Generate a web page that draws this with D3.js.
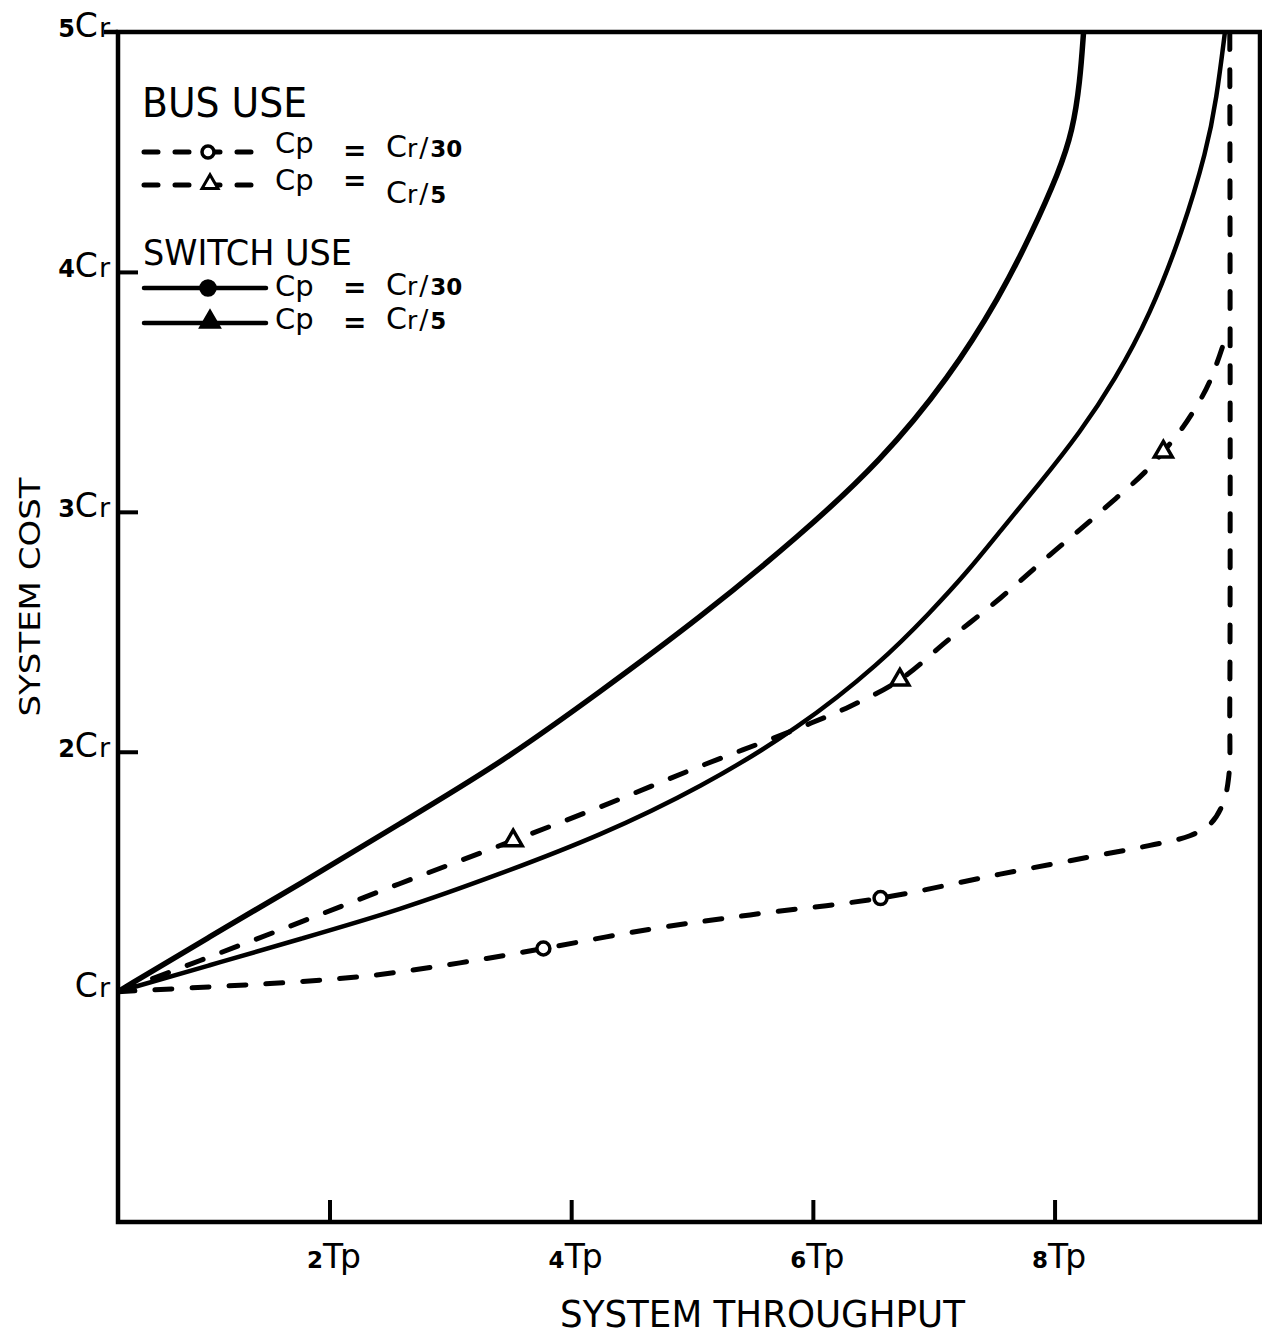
<!DOCTYPE html>
<html><head><meta charset="utf-8">
<script src="https://cdn.jsdelivr.net/npm/d3@7"></script>
<style>
body{margin:0;background:#fff;}
svg{display:block;}
text{font-family:"DejaVu Sans","Liberation Sans",sans-serif;fill:#000;}
</style>
</head><body>
<svg id="chart" width="1262" height="1337"></svg>
<script>
// ---- data (throughput in Tp, cost in Cr) ----
const xTickValues = [2, 4, 6, 8];
const xTickLabels = ["2Tp", "4Tp", "6Tp", "8Tp"];
const yTickValues = [1, 2, 3, 4, 5];
const yTickLabels = ["Cr", "2Cr", "3Cr", "4Cr", "5Cr"];

// SWITCH USE, Cp = Cr/5 (upper solid curve)
const switchCr5Throughput = [0.25,1.01,1.76,2.58,3.41,4.24,5.07,5.89,6.56,7.13,7.55,7.80,8.04,8.15,8.21,8.24];
const switchCr5Cost       = [1.00,1.23,1.45,1.70,1.95,2.25,2.56,2.90,3.21,3.56,3.90,4.15,4.42,4.59,4.79,5.00];

// SWITCH USE, Cp = Cr/30 (lower solid curve)
const switchCr30Throughput = [0.25,1.01,1.76,2.58,3.41,4.24,5.07,5.89,6.56,6.97,7.28,7.55,7.88,8.21,8.50,8.79,9.06,9.26,9.34,9.41];
const switchCr30Cost       = [1.00,1.11,1.22,1.34,1.49,1.65,1.85,2.10,2.37,2.58,2.75,2.92,3.12,3.33,3.55,3.82,4.17,4.51,4.72,5.00];

// BUS USE, Cp = Cr/5 (dashed, triangles)
const busCr5Throughput = [0.25,0.93,1.76,2.58,3.52,4.24,5.07,5.89,6.31,6.72,7.13,7.55,7.96,8.38,8.90,9.15,9.29,9.43];
const busCr5Cost       = [1.00,1.13,1.29,1.45,1.63,1.77,1.94,2.10,2.19,2.30,2.47,2.64,2.82,3.00,3.25,3.42,3.55,3.75];
const busCr5MarkerThroughput = [3.52, 6.72, 8.90];
const busCr5MarkerCost       = [1.63, 2.30, 3.25];

// BUS USE, Cp = Cr/30 (dashed, circles)
const busCr30Throughput = [0.25,1.01,1.70,2.39,3.08,3.77,4.65,5.48,6.56,7.55,8.38,8.79,9.12,9.29,9.39,9.44,9.45,9.45];
const busCr30Cost       = [1.00,1.02,1.04,1.07,1.12,1.18,1.26,1.32,1.39,1.49,1.57,1.61,1.65,1.70,1.78,1.89,2.22,5.00];
const busCr30MarkerThroughput = [3.77, 6.56];
const busCr30MarkerCost       = [1.18, 1.39];

// ---- layout ----
const xMin = 0.25, xMax = 9.7, yMin = 0.04, yMax = 5;
const svg = d3.select("#chart");
const x = d3.scaleLinear().domain([xMin, xMax]).range([118, 1260]);
const y = d3.scaleLinear().domain([yMin, yMax]).range([1222, 32]);

const zip = (a, b) => a.map((v, i) => [v, b[i]]);

svg.append("defs").append("clipPath").attr("id", "plotclip")
  .append("rect").attr("x", x(xMin)).attr("y", y(yMax))
  .attr("width", x(xMax) - x(xMin)).attr("height", y(yMin) - y(yMax));

// frame
svg.append("rect")
  .attr("x", x(xMin)).attr("y", y(yMax))
  .attr("width", x(xMax) - x(xMin)).attr("height", y(yMin) - y(yMax))
  .attr("fill", "none").attr("stroke", "#000").attr("stroke-width", 4.5);
svg.append("line").attr("x1", x(xMin) - 14).attr("x2", x(xMin))
  .attr("y1", y(5)).attr("y2", y(5)).attr("stroke", "#000").attr("stroke-width", 4.5);

// axes (inward ticks)
const gx = svg.append("g").attr("transform", `translate(0,${y(yMin)})`)
  .call(d3.axisBottom(x).tickValues(xTickValues).tickSizeInner(-22).tickSizeOuter(0).tickFormat(""));
gx.select(".domain").remove();
gx.selectAll(".tick line").attr("stroke", "#000").attr("stroke-width", 4);

const gy = svg.append("g").attr("transform", `translate(${x(xMin)},0)`)
  .call(d3.axisLeft(y).tickValues(yTickValues.filter(v => v > 1 && v < 5)).tickSizeInner(-20).tickSizeOuter(0).tickFormat(""));
gy.select(".domain").remove();
gy.selectAll(".tick line").attr("stroke", "#000").attr("stroke-width", 4);

// x tick labels
xTickValues.forEach((v, i) => {
  const lab = xTickLabels[i];
  const t = svg.append("text").attr("x", x(v) + 3).attr("y", 1268).attr("text-anchor", "middle");
  t.append("tspan").attr("font-size", 23).attr("font-weight", "bold").text(lab.slice(0, -2));
  t.append("tspan").attr("font-size", 33).attr("letter-spacing", -3).text(lab.slice(-2));
});

// y tick labels
yTickValues.forEach((v, i) => {
  const lab = yTickLabels[i];
  const t = svg.append("text").attr("x", x(xMin) - 8).attr("y", y(v) + 5).attr("text-anchor", "end");
  const digits = lab.slice(0, -2);
  if (digits) t.append("tspan").attr("font-size", 24).attr("font-weight", "bold").text(digits);
  t.append("tspan").attr("font-size", 33).text("C");
  t.append("tspan").attr("font-size", 27).attr("dx", 1).text("r");
});

// axis titles
svg.append("text").attr("x", 560).attr("y", 1327)
  .attr("font-size", 38).attr("textLength", 405).attr("lengthAdjust", "spacingAndGlyphs")
  .text("SYSTEM  THROUGHPUT");
svg.append("text").attr("transform", "translate(40,597) rotate(-90)")
  .attr("text-anchor", "middle").attr("font-size", 29)
  .attr("textLength", 239).attr("lengthAdjust", "spacingAndGlyphs")
  .text("SYSTEM  COST");

// curves
const lineOf = c => d3.line().x(d => x(d[0])).y(d => y(d[1])).curve(c);
const smooth = lineOf(d3.curveBasis);
const mono = lineOf(d3.curveMonotoneX);
const thru = lineOf(d3.curveCatmullRom.alpha(0.5));
const plot = svg.append("g").attr("clip-path", "url(#plotclip)");
const dash = "17,20";

plot.append("path").datum(zip(switchCr5Throughput, switchCr5Cost)).attr("d", smooth)
  .attr("fill", "none").attr("stroke", "#000").attr("stroke-width", 5.5).attr("stroke-linecap", "round");
plot.append("path").datum(zip(switchCr30Throughput, switchCr30Cost)).attr("d", smooth)
  .attr("fill", "none").attr("stroke", "#000").attr("stroke-width", 4.5).attr("stroke-linecap", "round");
plot.append("path").datum(zip(busCr5Throughput, busCr5Cost)).attr("d", mono)
  .attr("fill", "none").attr("stroke", "#000").attr("stroke-width", 5).attr("stroke-linecap", "round")
  .attr("stroke-dasharray", dash);
plot.append("path").datum(zip(busCr30Throughput, busCr30Cost)).attr("d", thru)
  .attr("fill", "none").attr("stroke", "#000").attr("stroke-width", 5).attr("stroke-linecap", "round")
  .attr("stroke-dasharray", dash);

// markers
const tri = d3.symbol().type(d3.symbolTriangle).size(140);
plot.selectAll(".m5").data(zip(busCr5MarkerThroughput, busCr5MarkerCost)).enter().append("path")
  .attr("d", tri).attr("transform", d => `translate(${x(d[0])},${y(d[1])})`)
  .attr("fill", "#fff").attr("stroke", "#000").attr("stroke-width", 3.5);
plot.selectAll(".m30").data(zip(busCr30MarkerThroughput, busCr30MarkerCost)).enter().append("circle")
  .attr("cx", d => x(d[0])).attr("cy", d => y(d[1])).attr("r", 6.5)
  .attr("fill", "#fff").attr("stroke", "#000").attr("stroke-width", 3.5);

// legend
const lg = svg.append("g");
lg.append("text").attr("x", 142).attr("y", 117).attr("font-size", 40)
  .attr("textLength", 165).attr("lengthAdjust", "spacingAndGlyphs").text("BUS  USE");
lg.append("text").attr("x", 143).attr("y", 265).attr("font-size", 36)
  .attr("textLength", 209).attr("lengthAdjust", "spacingAndGlyphs").text("SWITCH USE");

const rows = [
  {y: 152, dashed: true,  marker: "circle",   cpY: 153, eqY: 160, valY: 157, digits: "30"},
  {y: 185, dashed: true,  marker: "triangle", cpY: 190, eqY: 190, valY: 203, digits: "5"},
  {y: 288, dashed: false, marker: "circle",   cpY: 296, eqY: 297, valY: 295, digits: "30"},
  {y: 323, dashed: false, marker: "triangle", cpY: 329, eqY: 332, valY: 329, digits: "5"}
];
rows.forEach(r => {
  lg.append("line").attr("x1", 144).attr("x2", 266).attr("y1", r.y).attr("y2", r.y)
    .attr("stroke", "#000").attr("stroke-width", r.dashed ? 5 : 4.5)
    .attr("stroke-linecap", "round").attr("stroke-dasharray", r.dashed ? "14,17" : null);
  const fill = r.dashed ? "#fff" : "#000";
  if (r.marker === "circle") {
    lg.append("circle").attr("cx", 208).attr("cy", r.y).attr("r", r.dashed ? 6 : 7)
      .attr("fill", fill).attr("stroke", "#000").attr("stroke-width", 3.5);
  } else {
    lg.append("path").attr("d", d3.symbol().type(d3.symbolTriangle).size(r.dashed ? 110 : 150)())
      .attr("transform", `translate(210,${r.y - 1})`)
      .attr("fill", fill).attr("stroke", "#000").attr("stroke-width", 3);
  }
  lg.append("text").attr("x", 275).attr("y", r.cpY).attr("font-size", 29).text("Cp");
  lg.append("text").attr("x", 343).attr("y", r.eqY).attr("font-size", 28).attr("font-weight", "bold").text("=");
  const t = lg.append("text").attr("x", 386).attr("y", r.valY);
  t.append("tspan").attr("font-size", 30).text("C");
  t.append("tspan").attr("font-size", 25).text("r");
  t.append("tspan").attr("font-size", 27).attr("dx", 2).text("/");
  t.append("tspan").attr("font-size", 23).attr("font-weight", "bold").attr("dx", 2).text(r.digits);
});
</script>
</body></html>
